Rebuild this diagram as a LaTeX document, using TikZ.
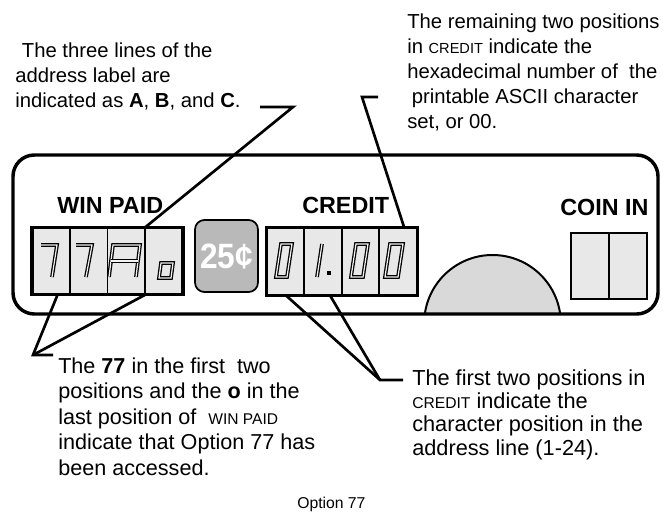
\documentclass[tikz,border=0pt]{standalone}
\usepackage{fontspec}
\setmainfont{Liberation Sans}
\usepackage{graphicx}
\newcommand{\smcap}[1]{\scalebox{0.72}{#1}}

\begin{document}
\begin{tikzpicture}[x=0.75pt,y=-0.75pt,
  cell/.style={draw,line width=1.4pt,fill=gray!18,inner sep=0pt,outer sep=0pt,
    minimum width=28.3pt,minimum height=50.6pt},
  seg/.style={line width=0.95pt,double=gray!10,double distance=0.9pt,line join=miter},
  leader/.style={line width=2pt},
  lbl/.style={font=\fontsize{17.5}{21}\selectfont\bfseries,anchor=base west,inner sep=0pt},
  note/.style={align=left,anchor=base west,inner sep=0pt}]
  \useasboundingbox (0,0) rectangle (663,514);
  % 半圆（被面板下边截去）
  \begin{scope}
    \clip (13,155) rectangle (658,313);
    \filldraw[fill=gray!30,line width=1.5pt] (492.5,323.3) circle[radius=68.3];
  \end{scope}
  % 面板外框
  \draw[line width=2.6pt,rounded corners=16pt] (13,155) rectangle (658,314);
  % 标题
  \node[lbl] (winLbl) at (57,213) {WIN PAID};
  \node[lbl] (creditLbl) at (302,213) {CREDIT};
  \node[lbl] (coinLbl) at (560,215) {COIN IN};
  % WIN PAID 四格
  \node[cell] (w1) at (50.9,261) {};
  \node[cell] (w2) at (88.6,261) {};
  \node[cell] (w3) at (126.4,261) {};
  \node[cell] (w4) at (164.1,261) {};
  \draw[line width=2.4pt] (w1.north west) rectangle (w4.south east);
  % 25 分按钮
  \node[draw,line width=1.3pt,fill=gray!55,rounded corners=7pt,inner sep=0pt,
    minimum width=47.2pt,minimum height=54pt] (cent) at (226.5,256)
    {\scalebox{1.08}[1.2]{\fontsize{22}{22}\selectfont\bfseries\color{white}25¢}};
  % CREDIT 四格
  \node[cell] (c1) at (285.75,261.5) {};
  \node[cell] (c2) at (323.25,261.5) {};
  \node[cell] (c3) at (360.75,261.5) {};
  \node[cell] (c4) at (398.25,261.5) {};
  \draw[line width=2.4pt] (c1.north west) rectangle (c4.south east);
  % COIN IN 两格
  \node[cell,minimum height=49.5pt] (i1) at (590,266) {};
  \node[cell,minimum height=49.5pt] (i2) at (628,266) {};
  \draw[line width=2pt] (i1.north west) rectangle (i2.south east);
  % 数码：7 7 A o
  \draw[seg] (41,245) -- (57,245) -- (52,277);
  \draw[seg] (76,245) -- (92,245) -- (86,277);
  \draw[seg] (109,277) -- (113,245) -- (140,245) -- (136,277);
  \draw[seg] (111,261) -- (138,261);
  \draw[seg] (159,278) -- (161,263) -- (173,263) -- (171,278) -- cycle;
  % 数码：0 1. 0 0
  \draw[seg] (276,277) -- (281,244) -- (292,244) -- (287,277) -- cycle;
  \draw[seg] (322,244) -- (317,277);
  \fill (327,271) rectangle (331,275);
  \draw[seg] (351,277) -- (356,244) -- (368,244) -- (363,277) -- cycle;
  \draw[seg] (385,277) -- (390,244) -- (403,244) -- (398,277) -- cycle;
  % 左上说明（基线取末行）
  \node[note,font=\fontsize{15.2}{18.75}\selectfont] (noteABC) at (15,107)
    {\hspace*{5pt}The three lines of the\\address label are\\indicated as \textbf{A}, \textbf{B}, and \textbf{C}.};
  % 右上说明
  \node[note,font=\fontsize{15.2}{18.75}\selectfont] (noteHex) at (407,128)
    {The remaining two positions\\in \smcap{CREDIT} indicate the\\hexadecimal number of\ \ the\\\hspace*{3.5pt}printable ASCII character\\set, or 00.};
  % 左下说明
  \node[note,font=\fontsize{16.2}{19.1}\selectfont] (noteOpt) at (58,475)
    {The \textbf{77} in the first\ \ two\\positions and the \textbf{o} in the\\last position of\ \ \smcap{WIN PAID}\\indicate that Option 77 has\\been accessed.};
  % 右下说明
  \node[note,font=\fontsize{16.3}{17.4}\selectfont] (notePos) at (412,455)
    {The first two positions in\\\smcap{CREDIT} indicate the\\character position in the\\address line (1-24).};
  % 图题
  \node[note,font=\fontsize{11.8}{14}\selectfont] (caption) at (297,508) {Option 77};
  % 引线
  \coordinate (tlA) at (260,107);
  \coordinate (tlB) at (293,107);
  \draw[leader] (tlA) -- (tlB) -- (w4.north west);
  \coordinate (trA) at (378,97);
  \coordinate (trB) at (362,97);
  \draw[leader] (trA) -- (trB) -- ([xshift=4.5pt]c4.north);
  \coordinate (blA) at (33,355);
  \coordinate (blB) at (53,355);
  \draw[leader] ([xshift=5pt]w1.south) -- (blA) -- (blB);
  \draw[leader] (w4.south west) -- (blA);
  \coordinate (brA) at (380,380);
  \coordinate (brB) at (403,380);
  \draw[leader] (c1.south) -- (brA) -- (brB);
  \draw[leader] ([xshift=5pt]c2.south) -- (brA);
\end{tikzpicture}
\end{document}
